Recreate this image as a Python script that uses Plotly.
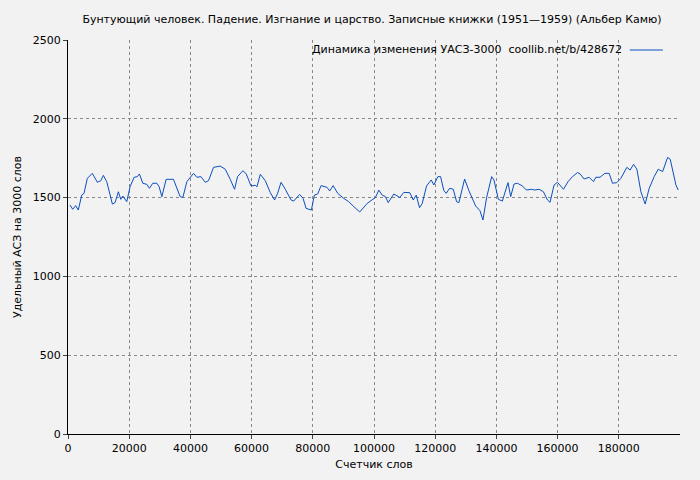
import plotly.graph_objects as go

x_k = [0.65,1.54,2.52,3.37,4.48,5.24,6.32,7.95,9.59,10.70,11.55,12.67,14.50,15.38,16.46,17.25,17.90,19.21,20.29,21.60,22.68,23.34,24.45,25.76,26.61,27.72,29.03,29.78,30.67,32.08,34.46,35.77,36.66,37.54,38.85,41.01,42.12,43.43,44.84,45.92,47.56,49.75,51.39,53.02,54.43,55.41,57.18,58.26,59.80,61.21,61.76,62.84,64.48,66.12,
67.52,68.50,69.62,71.02,72.89,73.74,75.71,76.82,77.80,79.53,80.52,81.60,82.71,84.67,85.52,86.64,88.14,90.10,91.74,93.38,95.34,97.76,99.73,100.48,101.56,102.67,103.75,104.64,106.47,108.43,109.74,111.71,112.82,113.80,114.88,115.77,117.17,118.71,119.56,120.87,121.76,122.84,123.62,124.70,125.91,126.99,127.75,
129.61,131.02,133.21,134.62,135.60,136.81,138.45,139.20,140.64,141.95,143.78,144.67,145.75,146.86,148.50,149.80,151.54,152.52,153.93,155.37,156.68,157.53,158.84,159.96,161.92,163.42,164.86,166.50,167.35,168.66,170.29,171.73,172.49,173.89,175.43,176.84,177.95,179.36,180.67,182.63,183.71,184.82,185.91,187.22,188.62,189.93,191.57,192.88,194.32,195.95,196.81,198.66,199.41]
y_vals = [1453,1426,1449,1421,1516,1527,1622,1654,1597,1607,1641,1601,1459,1468,1537,1489,1510,1474,1569,1629,1633,1650,1591,1584,1559,1591,1591,1569,1506,1616,1616,1548,1506,1501,1601,1654,1629,1633,1597,1607,1692,1700,1680,1616,1553,1633,1671,1650,1574,1578,1569,1648,1607,1531,
1485,1527,1597,1553,1485,1478,1520,1495,1432,1421,1516,1523,1576,1565,1542,1576,1527,1495,1474,1443,1409,1463,1495,1501,1548,1516,1506,1468,1523,1501,1533,1531,1485,1516,1436,1463,1574,1612,1580,1633,1633,1544,1527,1559,1553,1474,1468,
1618,1544,1447,1417,1358,1501,1633,1612,1489,1478,1595,1506,1586,1591,1574,1548,1553,1548,1553,1537,1485,1470,1580,1597,1553,1601,1633,1659,1650,1618,1629,1601,1629,1629,1654,1654,1591,1595,1622,1692,1675,1711,1680,1537,1459,1559,1633,1680,1665,1755,1743,1580,1548]
x_vals = [v * 1000 for v in x_k]

title = "Бунтующий человек. Падение. Изгнание и царство. Записные книжки (1951—1959) (Альбер Камю)"
series_name = "Динамика изменения УАСЗ-3000  coollib.net/b/428672"
line_color = "#0b4fbf"

fig = go.Figure(go.Scatter(x=x_vals, y=y_vals, mode="lines", name=series_name,
                           line=dict(color=line_color, width=1), showlegend=False))
font = dict(family="DejaVu Sans", size=11, color="#000")
fig.update_layout(
    width=700, height=480, margin=dict(l=60, r=28, t=32, b=54, autoexpand=False),
    paper_bgcolor="#f2f2f2", plot_bgcolor="#f2f2f2", font=font,
    title=dict(text=title, x=(372-8)/700, xanchor="center", y=1 - 11/480, yanchor="middle", font=dict(size=11)),
)
fig.add_annotation(text=series_name, xref="paper", yref="paper", x=0.908, y=1 - 10/394,
                   xanchor="right", yanchor="middle", showarrow=False, font=dict(size=11))
fig.add_shape(type="line", xref="paper", yref="paper", x0=0.918, x1=0.972, y0=1 - 10/394, y1=1 - 10/394,
              line=dict(color=line_color, width=1))
fig.update_xaxes(range=[0, 200000], tickvals=list(range(0, 200000, 20000)), tickformat="d",
                 showgrid=True, gridcolor="#888", griddash="dot", showline=True, linecolor="#000",
                 ticks="outside", ticklen=4, zeroline=False, automargin=False,
                 title=dict(text="Счетчик слов", standoff=6, font=dict(size=11)))
fig.update_yaxes(range=[0, 2500], dtick=500, showgrid=True, gridcolor="#888", griddash="dot",
                 showline=True, linecolor="#000", ticks="outside", ticklen=4, zeroline=False, automargin=False,
                 title=dict(text="Удельный АСЗ на 3000 слов", standoff=8, font=dict(size=11)))
fig.write_html("out.html", post_script="document.body.style.background='#f2f2f2';")
